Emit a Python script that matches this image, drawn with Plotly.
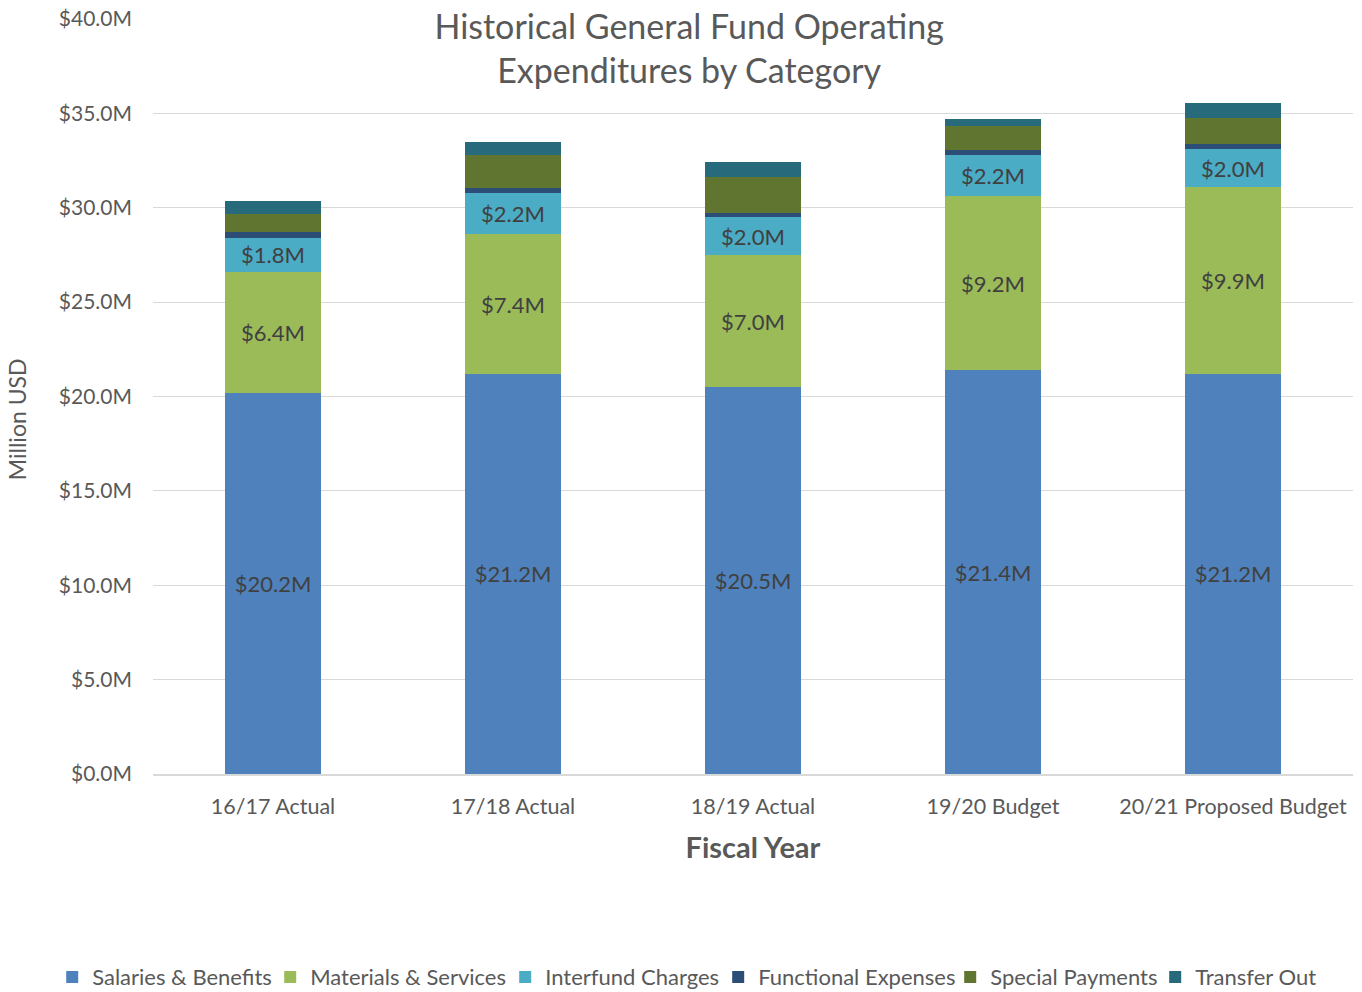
import plotly.graph_objects as go

categories = ["16/17 Actual", "17/18 Actual", "18/19 Actual", "19/20 Budget", "20/21 Proposed Budget"]
salaries = [20.2, 21.2, 20.5, 21.4, 21.2]
materials = [6.4, 7.4, 7.0, 9.2, 9.9]
interfund = [1.8, 2.2, 2.0, 2.2, 2.0]
functional = [0.33, 0.26, 0.23, 0.26, 0.26]
special = [0.94, 1.76, 1.89, 1.26, 1.41]
transfer = [0.70, 0.66, 0.79, 0.39, 0.79]

series = [
    ("Salaries & Benefits", salaries, "#4F81BD", True, 173),
    ("Materials & Services", materials, "#9BBB59", True, 190),
    ("Interfund Charges", interfund, "#4BACC6", True, 168),
    ("Functional Expenses", functional, "#2C4D75", False, 187),
    ("Special Payments", special, "#5F7530", False, 160),
    ("Transfer Out", transfer, "#276A7C", False, 125),
]

FONT = "Lato"
TXT = "#595959"

fig = go.Figure()
for name, vals, color, lab, lw in series:
    fig.add_trace(go.Bar(
        name=name, x=categories, y=vals,
        marker=dict(color=color, line=dict(width=0)),
        texttemplate="$%{y:.1f}M" if lab else None,
        textposition="inside" if lab else "none",
        insidetextanchor="middle",
        textangle=0,
        textfont=dict(family=FONT, size=22, color="#404040"),
        hoverinfo="x+y+name",
        legendwidth=lw,
    ))

fig.update_layout(
    barmode="stack",
    bargap=0.6,
    width=1362, height=992,
    paper_bgcolor="white", plot_bgcolor="white",
    margin=dict(l=153, r=9, t=19, b=218, autoexpand=False),
    font=dict(family=FONT, color=TXT),
    title=dict(
        text="Historical General Fund Operating<br>Expenditures by Category",
        x=0.506, xanchor="center", xref="container",
        y=0.9606, yanchor="middle", yref="container",
        font=dict(family=FONT, size=34, color=TXT),
    ),
    legend=dict(
        orientation="h", xref="paper", yref="paper",
        x=-0.084, xanchor="left", y=-0.269, yanchor="middle",
        font=dict(family=FONT, size=22, color=TXT),
        traceorder="normal", itemwidth=30,
    ),
    yaxis=dict(
        range=[0, 40], dtick=5, tickprefix="$", tickformat=".1f", ticksuffix="M",
        showgrid=True, gridcolor="#D9D9D9", gridwidth=1.3,
        zeroline=False, showline=False,
        tickfont=dict(family=FONT, size=21, color=TXT),
        ticklabelstandoff=20,
    ),
    xaxis=dict(
        showline=True, linecolor="#D9D9D9", linewidth=2,
        tickfont=dict(family=FONT, size=21.5, color=TXT),
        ticklabelstandoff=12,
        title=dict(text="<b>Fiscal Year</b>", font=dict(family=FONT, size=29, color=TXT), standoff=20),
    ),
    annotations=[dict(
        text="Million USD", textangle=-90, showarrow=False,
        xref="paper", yref="paper", x=-0.1133, y=0.470,
        xanchor="center", yanchor="middle",
        font=dict(family=FONT, size=23, color=TXT),
    )],
    shapes=[dict(type="rect", xref="paper", yref="paper", x0=0.231, x1=0.66, y0=0.985, y1=1.02,
                 fillcolor="white", line=dict(width=0), layer="above")],
)

fig.write_html("out.html", config={"displayModeBar": False},
               post_script="document.body.style.margin='0';")
